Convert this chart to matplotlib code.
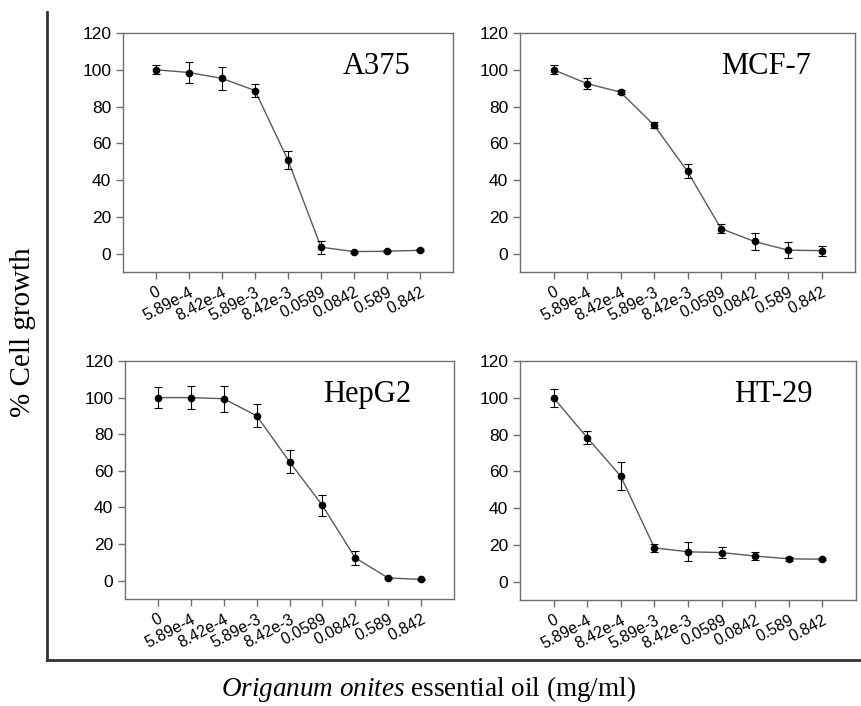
import numpy as np
import matplotlib.pyplot as plt
from matplotlib.lines import Line2D

plt.rcParams['mathtext.fontset'] = 'custom'
plt.rcParams['mathtext.rm'] = 'Liberation Serif'
plt.rcParams['mathtext.it'] = 'Liberation Serif:italic'

conc_labels = ["0", "5.89e-4", "8.42e-4", "5.89e-3", "8.42e-3",
               "0.0589", "0.0842", "0.589", "0.842"]

a375 = [100, 98.5, 95.3, 88.7, 50.8, 3.5, 1.1, 1.3, 1.8]
a375_err = [2.5, 5.5, 6.3, 3.4, 4.9, 3.6, 0.5, 0.5, 0.5]

mcf7 = [100, 92.5, 87.8, 69.9, 44.7, 13.6, 6.6, 1.9, 1.6]
mcf7_err = [2.4, 3.0, 1.2, 1.8, 3.8, 2.5, 4.6, 4.5, 2.7]

hepg2 = [100, 100, 99.4, 90.1, 65.0, 41.1, 12.4, 1.5, 0.7]
hepg2_err = [5.7, 6.2, 7.0, 6.2, 6.4, 5.8, 3.8, 0.5, 0.4]

ht29 = [100, 78.3, 57.3, 18.4, 16.2, 15.8, 13.9, 12.4, 12.2]
ht29_err = [5.0, 3.7, 7.6, 2.2, 5.2, 3.2, 2.0, 1.0, 0.5]

panels = [
    ("A375", a375, a375_err, (123, 453, 33, 272)),
    ("MCF-7", mcf7, mcf7_err, (520, 855, 33, 272)),
    ("HepG2", hepg2, hepg2_err, (125, 454, 361, 599)),
    ("HT-29", ht29, ht29_err, (520, 856, 361, 600)),
]

W, H = 861, 706
fig = plt.figure(figsize=(W / 100, H / 100), dpi=100)
serif = ["Liberation Serif", "DejaVu Serif"]
sans = ["Liberation Sans", "DejaVu Sans"]

x = np.arange(len(conc_labels))
for name, vals, errs, (l, r, t, b) in panels:
    ax = fig.add_axes([l / W, 1 - b / H, (r - l) / W, (b - t) / H])
    ax.plot(x, vals, color="#5a5a5a", lw=1.0, zorder=2)
    ax.errorbar(x, vals, yerr=errs, fmt="o", color="black", ms=4.5,
                elinewidth=0.8, capsize=3, capthick=0.8, zorder=3)
    ax.set_xlim(-1, 9)
    ax.set_ylim(-10, 120)
    ax.set_yticks(range(0, 121, 20))
    ax.set_xticks(x)
    ax.set_xticklabels(conc_labels, rotation=28, ha="right", va="top",
                       rotation_mode="anchor", family=sans, fontsize=11.5)
    for lab in ax.get_yticklabels():
        lab.set_family(sans)
        lab.set_fontsize(12.5)
    ax.tick_params(direction="out", length=5, color="#707070", width=1)
    ax.tick_params(axis="x", pad=4)
    for s in ax.spines.values():
        s.set_color("#707070")
        s.set_linewidth(1)
    ax.text(0.87, 0.86, name, transform=ax.transAxes, ha="right",
            va="center", family=serif, fontsize=22)

# outer L-shaped frame
fig.add_artist(Line2D([47 / W, 47 / W], [1 - 12 / H, 1 - 660 / H],
                      color="#333333", lw=2))
fig.add_artist(Line2D([47 / W, 1.0], [1 - 660 / H, 1 - 660 / H],
                      color="#333333", lw=2))

fig.text(23 / W, 1 - 332 / H, "% Cell growth", rotation=90, ha="center",
         va="center", family=serif, fontsize=21)
fig.text(428 / W, 1 - 689 / H,
         r"$\it{Origanum\ onites}$ essential oil (mg/ml)",
         ha="center", va="center", family=serif, fontsize=19.5)

fig.savefig("out.png", dpi=100)
